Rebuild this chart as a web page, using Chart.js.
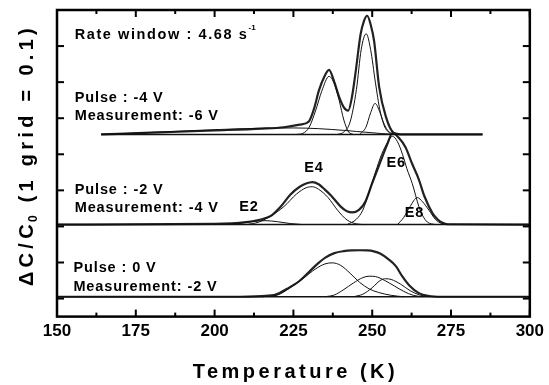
<!DOCTYPE html>
<html lang="en">
<head>
<meta charset="UTF-8">
<title>DLTS spectra</title>
<script src="https://cdn.jsdelivr.net/npm/chart.js"></script>
<style>
  body { margin: 0; background: #fff; }
  .wrap { width: 549px; height: 385px; position: relative; }
</style>
</head>
<body>
<div class="wrap"><canvas id="dlts"></canvas></div>
<script>
// [temperature K, signal in grid units]

// top: pulse -4 V, measurement -6 V
const topExp = [[164,4.55],[180,4.6],[200,4.66],[215,4.71],[222,4.75],[227,4.82],[229.9,4.91],[231.5,5.25],[233.1,5.77],[234.8,6.15],[236.3,6.34],[237.8,6.05],[239.5,5.59],[241,5.3],[242.4,5.21],[243.6,5.6],[244.8,6.32],[246.3,7.32],[247.4,7.7],[248.4,7.84],[249.5,7.6],[250.6,7.14],[252.2,5.87],[254.3,5.05],[256.9,4.59],[260,4.55],[285,4.55]];
const topFit1 = [[226,4.55],[228,4.58],[230,4.75],[232,5.2],[234,5.75],[236.3,6.16],[238,5.95],[239.5,5.5],[241,4.95],[242.5,4.62],[244,4.55]];
const topFit2 = [[239,4.55],[241,4.62],[243,4.9],[245,5.8],[246.5,6.9],[248.1,7.34],[249.5,6.9],[251,6.0],[252.5,5.2],[254,4.8],[256,4.58],[258,4.55]];
const topFit3 = [[246,4.55],[248,4.75],[249.5,5.15],[250.9,5.41],[252.5,5.15],[254,4.75],[256,4.55]];
const topBack = [[164,4.55],[225,4.73],[257,4.55]];
const topBase = [[164,4.55],[285,4.55]];

// middle: pulse -2 V, measurement -4 V
const midExp = [[150,2.05],[200,2.07],[210,2.12],[215,2.2],[218,2.3],[221,2.55],[224,2.88],[227,3.1],[229,3.19],[231,3.23],[233,3.17],[235,3.02],[237,2.85],[240,2.55],[242,2.42],[243.7,2.39],[245.8,2.46],[247.9,2.7],[250,3.2],[252.2,3.7],[254.8,4.28],[256.4,4.59],[258.5,4.45],[260.6,4.19],[262.7,3.73],[264.8,3.3],[266.5,2.85],[269.1,2.37],[270.7,2.2],[272.3,2.1],[274,2.06],[300,2.05]];
const midE2 = [[200,2.05],[207,2.08],[212,2.13],[216,2.16],[220,2.13],[224,2.08],[228,2.05]];
const midE4 = [[210,2.05],[214,2.12],[218,2.3],[222,2.55],[226,2.9],[229,3.07],[231,3.1],[233,3.03],[236,2.8],[239,2.45],[242,2.18],[245,2.07],[248,2.05]];
const midE6 = [[242,2.05],[245,2.2],[247,2.45],[249,2.95],[251,3.5],[253,4.0],[255,4.35],[256.4,4.5],[258,4.35],[259.6,4.0],[261,3.6],[262.7,3.19],[264.8,2.55],[266,2.3],[267.5,2.12],[270,2.05]];
const midE8 = [[258,2.05],[260,2.25],[262,2.55],[264.3,2.8],[266,2.68],[268,2.45],[270,2.2],[272,2.08],[274,2.05]];
const midBase = [[150,2.05],[300,2.05]];

// bottom: pulse 0 V, measurement -2 V
const botExp = [[150,0.05],[205,0.05],[215,0.07],[219.4,0.11],[223,0.27],[226.8,0.48],[229.5,0.7],[232.1,0.92],[235,1.13],[238,1.26],[241,1.315],[243.5,1.335],[246,1.34],[248.5,1.335],[250.5,1.31],[252.5,1.25],[255,1.1],[257.5,0.9],[259.5,0.62],[261.7,0.37],[264.8,0.15],[268,0.07],[272,0.05],[300,0.05]];
const botA = [[215,0.05],[220,0.1],[224,0.3],[228,0.55],[232,0.82],[235,0.96],[237.3,0.99],[240,0.92],[243,0.7],[246,0.45],[249,0.27],[252,0.17],[256,0.09],[260,0.05]];
const botB = [[235,0.05],[238,0.1],[241,0.25],[244,0.43],[247,0.58],[249,0.62],[251,0.61],[254,0.5],[257,0.35],[260,0.2],[263,0.09],[266,0.05]];
const botC = [[244,0.05],[247,0.12],[250,0.3],[252.5,0.5],[254.3,0.55],[256,0.53],[259,0.4],[262,0.22],[265,0.1],[268,0.05]];
const botBase = [[150,0.05],[300,0.05]];

// text labels: [text, T, grid units, align]
const notes = [
    ['Pulse : -4 V', 155.6, 5.55, 'left'],
    ['Measurement: -6 V', 155.6, 5.06, 'left'],
    ['Pulse : -2 V', 155.6, 3.01, 'left'],
    ['Measurement: -4 V', 155.6, 2.5, 'left'],
    ['Pulse : 0 V', 155.2, 0.86, 'left'],
    ['Measurement: -2 V', 155.2, 0.32, 'left'],
    ['E2', 210.9, 2.55, 'center'],
    ['E4', 231.5, 3.62, 'center'],
    ['E6', 257.6, 3.75, 'center'],
    ['E8', 263.4, 2.36, 'center']
];

const FONT = '"Liberation Sans", Arial, sans-serif';
const ink = '#111';
const pts = arr => arr.map(([x, y]) => ({ x, y }));
const curve = (arr, w, color) => ({
    data: pts(arr),
    borderColor: color || ink,
    borderWidth: w,
    pointRadius: 0,
    fill: false,
    cubicInterpolationMode: 'monotone'
});

const frame = {
    id: 'frame',
    afterDraw(chart) {
        const { ctx, chartArea: a, scales: { x, y } } = chart;
        const seg = (x1, y1, x2, y2) => { ctx.beginPath(); ctx.moveTo(x1, y1); ctx.lineTo(x2, y2); ctx.stroke(); };
        ctx.save();
        ctx.strokeStyle = '#000';
        ctx.lineWidth = 2.5;
        ctx.strokeRect(a.left, a.top, a.right - a.left, a.bottom - a.top);

        // inward ticks
        ctx.lineWidth = 2;
        x.ticks.forEach(t => {
            const px = x.getPixelForValue(t.value);
            const len = t.value % 25 === 0 ? 7 : 4;
            seg(px, a.bottom, px, a.bottom - len);
            seg(px, a.top, px, a.top + len);
        });
        for (let v = 0; v <= 7; v++) {
            const py = y.getPixelForValue(v);
            seg(a.left, py, a.left + 7, py);
            seg(a.right, py, a.right - 7, py);
        }

        // notes
        ctx.fillStyle = '#000';
        ctx.textBaseline = 'middle';
        ctx.font = 'bold 14.5px ' + FONT;
        ctx.letterSpacing = '0.9px';
        notes.forEach(([txt, tx, ty, al]) => {
            ctx.textAlign = al;
            ctx.fillText(txt, x.getPixelForValue(tx), y.getPixelForValue(ty));
        });
        ctx.textAlign = 'left';
        ctx.letterSpacing = '1.6px';
        const rx = x.getPixelForValue(155.6), ry = y.getPixelForValue(7.3);
        const rate = 'Rate window : 4.68 s';
        ctx.fillText(rate, rx, ry);
        const rw = ctx.measureText(rate).width;
        ctx.font = 'bold 8px ' + FONT;
        ctx.letterSpacing = '0px';
        ctx.fillText('-1', rx + rw, ry - 7);

        // axis titles
        ctx.font = 'bold 20px ' + FONT;
        ctx.letterSpacing = '3.5px';
        ctx.textAlign = 'center';
        ctx.textBaseline = 'middle';
        ctx.fillText('Temperature (K)', (a.left + a.right) / 2 + 2, 372);

        ctx.translate(33, 155);
        ctx.rotate(-Math.PI / 2);
        ctx.textBaseline = 'alphabetic';
        ctx.textAlign = 'left';
        const p1 = '\u0394C/C', p2 = '0', p3 = ' (1 grid = 0.1)';
        ctx.letterSpacing = '4.3px';
        const w1 = ctx.measureText(p1).width;
        const w3 = ctx.measureText(p3).width;
        ctx.font = 'bold 12px ' + FONT;
        ctx.letterSpacing = '1px';
        const w2 = ctx.measureText(p2).width;
        let cx = -(w1 + w2 + w3) / 2;
        ctx.font = 'bold 20px ' + FONT;
        ctx.letterSpacing = '4.3px';
        ctx.fillText(p1, cx, 0);
        cx += w1;
        ctx.font = 'bold 12px ' + FONT;
        ctx.letterSpacing = '1px';
        ctx.fillText(p2, cx - 2, 4);
        cx += w2;
        ctx.font = 'bold 20px ' + FONT;
        ctx.letterSpacing = '4.3px';
        ctx.fillText(p3, cx, 0);
        ctx.restore();
    }
};

new Chart(document.getElementById('dlts'), {
    type: 'line',
    data: {
        datasets: [
            curve(topBase, 1.5), curve(topBack, 1), curve(topFit1, 1), curve(topFit2, 1), curve(topFit3, 1), curve(topExp, 2.2, '#222'),
            curve(midBase, 1.5), curve(midE2, 1), curve(midE4, 1), curve(midE6, 1), curve(midE8, 1), curve(midExp, 2.2, '#222'),
            curve(botBase, 1.5), curve(botA, 1), curve(botB, 1), curve(botC, 1), curve(botExp, 2.2, '#222')
        ]
    },
    options: {
        responsive: true,
        maintainAspectRatio: false,
        animation: false,
        layout: { padding: { left: 57, right: 18, top: 10, bottom: 38 } },
        plugins: { legend: { display: false }, tooltip: { enabled: false } },
        scales: {
            x: {
                type: 'linear',
                min: 150,
                max: 300,
                grid: { display: false, drawTicks: false },
                border: { display: false },
                ticks: {
                    stepSize: 12.5,
                    autoSkip: false,
                    maxRotation: 0,
                    padding: 5,
                    color: '#000',
                    font: { family: FONT, size: 17, weight: 'bold' },
                    callback: v => (v % 25 === 0 ? v : '')
                }
            },
            y: { display: false, min: -0.5, max: 8 }
        }
    },
    plugins: [frame]
});
</script>
</body>
</html>
